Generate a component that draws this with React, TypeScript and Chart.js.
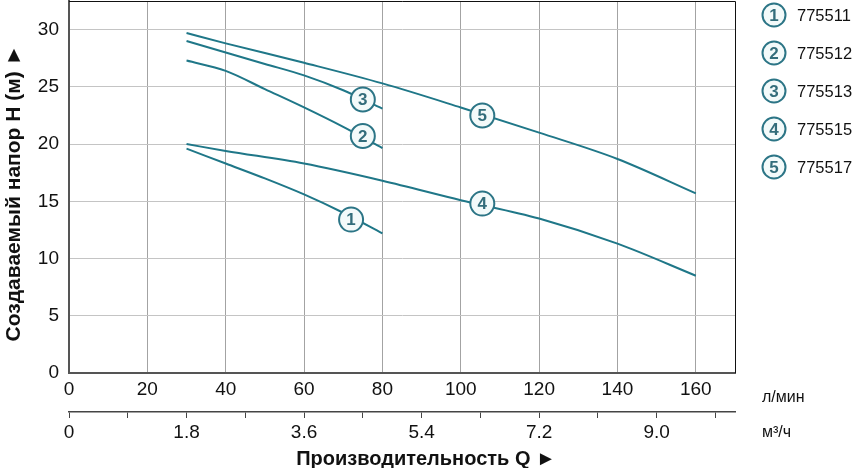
import React, { useEffect, useRef } from "react";
import { Chart, registerables } from "chart.js";

Chart.register(...registerables);

// ---- data ----
const seriesNames = ["775511", "775512", "775513", "775515", "775517"];
const seriesNumbers = ["1", "2", "3", "4", "5"];

const q1 = [30, 40, 50, 60, 70, 80];
const h1 = [19.6, 18.3, 17.0, 15.6, 14.0, 12.2];
const q2 = [30, 40, 50, 60, 70, 80];
const h2 = [27.3, 26.4, 24.8, 23.2, 21.5, 19.65];
const q3 = [30, 40, 50, 60, 70, 80];
const h3 = [29.0, 28.0, 27.0, 26.0, 24.7, 23.1];
const q4 = [30, 40, 60, 80, 100, 120, 140, 160];
const h4 = [20.0, 19.4, 18.3, 16.8, 15.1, 13.5, 11.3, 8.5];
const q5 = [30, 40, 60, 80, 100, 120, 140, 160];
const h5 = [29.7, 28.8, 27.1, 25.3, 23.2, 21.0, 18.7, 15.7];

// curve label markers (Q in l/min, H in m)
const markerQ = [72, 75, 75, 105.5, 105.5];
const markerH = [13.4, 20.7, 23.9, 14.8, 22.5];

const xTickStep = 20; // l/min
const x2TickStep = 15; // minor ticks, labels each 30 l/min
const yTickStep = 5;
const xMax = 170;
const yMax = 32.5;
const lpmToM3h = 0.06;

const xUnit = "л/мин";
const x2Unit = "м³/ч";
const xTitle = "Производительность Q ►";
const yTitle = "Создаваемый напор H (м) ►";

const LINE = "#1f7788";
const MARK_STROKE = "#2c7586";
const MARK_TEXT = "#336d7b";
const FONT = "'Liberation Sans', Arial, sans-serif";

function drawMarker(ctx: CanvasRenderingContext2D, x: number, y: number, r: number, txt: string, fs: number) {
  ctx.save();
  ctx.beginPath();
  ctx.arc(x, y, r, 0, Math.PI * 2);
  ctx.fillStyle = "#f3fafa";
  ctx.fill();
  ctx.lineWidth = 2;
  ctx.strokeStyle = MARK_STROKE;
  ctx.stroke();
  ctx.fillStyle = MARK_TEXT;
  ctx.font = `bold ${fs}px ${FONT}`;
  ctx.textAlign = "center";
  ctx.textBaseline = "middle";
  ctx.fillText(txt, x, y + 1);
  ctx.restore();
}

const noPad = (s: any) => {
  s.paddingTop = 0;
  s.paddingBottom = 0;
  s.paddingLeft = 0;
  s.paddingRight = 0;
};

const extrasPlugin = {
  id: "extras",
  afterDatasetsDraw(chart: any) {
    const ctx = chart.ctx as CanvasRenderingContext2D;
    const xs = chart.scales.x;
    const ys = chart.scales.y;
    for (let i = 0; i < markerQ.length; i++) {
      drawMarker(ctx, xs.getPixelForValue(markerQ[i]), ys.getPixelForValue(markerH[i]), 12, seriesNumbers[i], 17);
    }
  },
  afterDraw(chart: any) {
    const ctx = chart.ctx as CanvasRenderingContext2D;
    const a = chart.chartArea;
    ctx.save();
    // top and right frame
    ctx.strokeStyle = "#111";
    ctx.lineWidth = 1;
    ctx.beginPath();
    ctx.moveTo(a.left, a.top + 0.5);
    ctx.lineTo(a.right + 0.5, a.top + 0.5);
    ctx.lineTo(a.right + 0.5, a.bottom);
    ctx.stroke();

    // legend
    for (let i = 0; i < seriesNames.length; i++) {
      const cy = 15 + i * 38;
      drawMarker(ctx, 774, cy, 11.5, seriesNumbers[i], 17);
      ctx.fillStyle = "#111";
      ctx.font = `16.5px ${FONT}`;
      ctx.textAlign = "left";
      ctx.textBaseline = "middle";
      ctx.fillText(seriesNames[i], 797, cy + 1);
    }

    // units
    ctx.fillStyle = "#111";
    ctx.font = `16px ${FONT}`;
    ctx.textAlign = "left";
    ctx.textBaseline = "middle";
    ctx.fillText(xUnit, 762, 398);
    ctx.fillText(x2Unit, 762, 433);

    // x title
    ctx.font = `bold 20px ${FONT}`;
    ctx.textAlign = "center";
    ctx.fillText(xTitle, 426, 459);

    // y title
    ctx.font = `bold 21px ${FONT}`;
    ctx.translate(14, 193);
    ctx.rotate(-Math.PI / 2);
    ctx.fillText(yTitle, 0, 0);
    ctx.restore();
  },
};

export default function App() {
  const ref = useRef<HTMLCanvasElement | null>(null);

  useEffect(() => {
    if (!ref.current) return;
    const mk = (qs: number[], hs: number[], i: number) => ({
      label: seriesNames[i],
      data: qs.map((q, k) => ({ x: q, y: hs[k] })),
      borderColor: LINE,
      borderWidth: 2,
      pointRadius: 0,
      fill: false,
      cubicInterpolationMode: "monotone" as const,
    });
    const chart = new Chart(ref.current, {
      type: "line",
      data: {
        datasets: [mk(q1, h1, 0), mk(q2, h2, 1), mk(q3, h3, 2), mk(q4, h4, 3), mk(q5, h5, 4)],
      },
      plugins: [extrasPlugin],
      options: {
        responsive: false,
        animation: false,
        devicePixelRatio: 1,
        layout: { padding: { top: 1, right: 117, left: 0, bottom: 0 } },
        plugins: { legend: { display: false }, tooltip: { enabled: false } },
        scales: {
          x: {
            type: "linear",
            position: "bottom",
            weight: 0,
            min: 0,
            max: xMax,
            afterFit: (s: any) => { s.height = 39; noPad(s); },
            border: { display: true, color: "#555", width: 2 },
            grid: { color: "#a3a3a3", lineWidth: 1, drawTicks: false },
            ticks: {
              stepSize: xTickStep,
              includeBounds: false,
              autoSkip: false,
              maxRotation: 0,
              padding: 5,
              color: "#111",
              font: { family: FONT, size: 19 },
            },
          },
          x2: {
            type: "linear",
            position: "bottom",
            weight: 1,
            min: 0,
            max: xMax,
            afterFit: (s: any) => { s.height = 56; noPad(s); },
            border: { display: true, color: "#444", width: 1.5 },
            grid: { display: true, drawOnChartArea: false, drawTicks: true, tickLength: 6, color: "#444", tickColor: "#444" },
            ticks: {
              stepSize: x2TickStep,
              includeBounds: false,
              autoSkip: false,
              maxRotation: 0,
              padding: 3,
              color: "#111",
              font: { family: FONT, size: 19 },
              callback: (v: any) => {
                const n = Number(v);
                if (n % 30 !== 0) return "";
                return n === 0 ? "0" : (n * lpmToM3h).toFixed(1);
              },
            },
          },
          y: {
            type: "linear",
            min: 0,
            max: yMax,
            afterFit: (s: any) => { s.width = 69; noPad(s); },
            border: { display: true, color: "#555", width: 2 },
            grid: { color: "#c4c4c4", lineWidth: 1, drawTicks: false },
            ticks: {
              stepSize: yTickStep,
              includeBounds: false,
              padding: 10,
              color: "#111",
              font: { family: FONT, size: 19 },
            },
          },
        },
      },
    });
    return () => chart.destroy();
  }, []);

  return (
    <div style={{ position: "fixed", left: 0, top: 0, width: 852, height: 468, background: "#fff" }}>
      <canvas ref={ref} width={852} height={468} />
    </div>
  );
}
